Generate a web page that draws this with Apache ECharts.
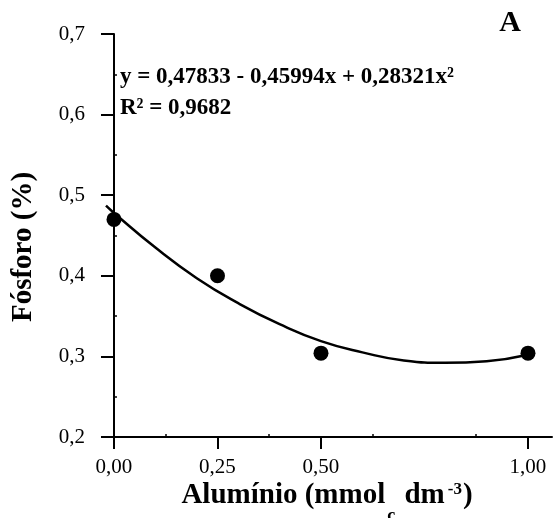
<!DOCTYPE html>
<html>
<head>
<meta charset="utf-8">
<script src="https://cdn.jsdelivr.net/npm/echarts@6/dist/echarts.min.js"></script>
<style>
html,body{margin:0;padding:0;background:#fff;}
#chart{width:553px;height:518px;}
</style>
</head>
<body>
<div id="chart"></div>
<script>
// observed points
const alX = [0, 0.25, 0.5, 1.0];
const fosY = [0.47, 0.40, 0.304, 0.304];
// fitted curve
const curveX = [-0.0193, 0, 0.1, 0.2, 0.3, 0.4, 0.5, 0.6, 0.7, 0.8, 0.9, 1.0];
const curveY = [0.487, 0.478, 0.435, 0.397, 0.366, 0.340, 0.319, 0.305, 0.295, 0.292, 0.294, 0.302];
// ticks
const xTickValues = [0, 0.25, 0.5, 1.0];
const xTickLabels = ['0,00', '0,25', '0,50', '1,00'];
const xMinorTicks = [0.125, 0.375, 0.625, 0.875];
const yTickValues = [0.2, 0.3, 0.4, 0.5, 0.6, 0.7];
const yTickLabels = ['0,2', '0,3', '0,4', '0,5', '0,6', '0,7'];
const yMinorTicks = [0.25, 0.35, 0.45, 0.55, 0.65];
// texts
const equationText = 'y = 0,47833 - 0,45994x + 0,28321x²';
const r2Text = 'R² = 0,9682';
const panelLetter = 'A';
const yTitle = 'Fósforo (%)';

const SERIF = '"Liberation Serif", "Times New Roman", serif';
const chart = echarts.init(document.getElementById('chart'));

function lbl(values, labels) {
  return function (v) {
    for (let i = 0; i < values.length; i++) {
      if (Math.abs(values[i] - v) < 1e-6) return labels[i];
    }
    return '';
  };
}

const xMin = -0.0193, xMax = 1.058;

chart.setOption({
  animation: false,
  backgroundColor: '#fff',
  grid: { left: 106, right: 1, top: 34, bottom: 81 },
  xAxis: [{
    type: 'value', min: xMin, max: xMax, position: 'bottom',
    axisLine: { show: true, lineStyle: { color: '#000', width: 2 } },
    axisTick: { show: true, customValues: xTickValues, length: 12, lineStyle: { color: '#000', width: 2 } },
    axisLabel: { show: true, customValues: xTickValues, formatter: lbl(xTickValues, xTickLabels),
      color: '#000', fontFamily: SERIF, fontSize: 21, margin: 20 },
    splitLine: { show: false }
  }, {
    type: 'value', min: xMin, max: xMax, position: 'bottom',
    axisLine: { show: false },
    axisTick: { show: true, inside: true, customValues: xMinorTicks, length: 3, lineStyle: { color: '#000', width: 1.5 } },
    axisLabel: { show: false },
    splitLine: { show: false }
  }],
  yAxis: [{
    type: 'value', min: 0.2, max: 0.7, interval: 0.1, position: 'left',
    axisLine: { show: true, lineStyle: { color: '#000', width: 2 } },
    axisTick: { show: true, length: 13, lineStyle: { color: '#000', width: 2 } },
    axisLabel: { show: true, formatter: lbl(yTickValues, yTickLabels),
      color: '#000', fontFamily: SERIF, fontSize: 21, margin: 21, padding: [5, 0, 0, 0] },
    splitLine: { show: false }
  }, {
    type: 'value', min: 0.2, max: 0.7, position: 'left',
    axisLine: { show: false },
    axisTick: { show: true, inside: true, customValues: yMinorTicks, length: 3, lineStyle: { color: '#000', width: 1.5 } },
    axisLabel: { show: false },
    splitLine: { show: false }
  }],
  series: [{
    type: 'line',
    data: curveX.map((x, i) => [x, curveY[i]]),
    smooth: true,
    showSymbol: false,
    symbol: 'none',
    lineStyle: { color: '#000', width: 2.5 },
    z: 2
  }, {
    type: 'scatter',
    data: alX.map((x, i) => [x, fosY[i]]),
    symbol: 'circle',
    symbolSize: 15,
    itemStyle: { color: '#000', opacity: 1 },
    z: 3
  }],
  graphic: [{
    type: 'text', x: 120, y: 77,
    style: { text: equationText, font: 'bold 23px ' + SERIF, fill: '#000', verticalAlign: 'middle' }
  }, {
    type: 'text', x: 120, y: 108,
    style: { text: r2Text, font: 'bold 23px ' + SERIF, fill: '#000', verticalAlign: 'middle' }
  }, {
    type: 'text', x: 510, y: 23,
    style: { text: panelLetter, font: 'bold 30px ' + SERIF, fill: '#000', align: 'center', verticalAlign: 'middle' }
  }, {
    type: 'text', x: 24, y: 247, rotation: Math.PI / 2,
    style: { text: yTitle, font: 'bold 29px ' + SERIF, fill: '#000', align: 'center', verticalAlign: 'middle' }
  }, {
    type: 'text', x: 327, y: 481,
    style: {
      text: '{b|Alumínio (mmol}{s|c}{b| dm}{p|-3}{b|)}',
      align: 'center', verticalAlign: 'top',
      rich: {
        b: { font: 'bold 29px ' + SERIF, color: '#000', lineHeight: 30, verticalAlign: 'top' },
        s: { font: 'bold 18px ' + SERIF, color: '#000', lineHeight: 44, verticalAlign: 'bottom', padding: [0, 2, 0, 2] },
        p: { font: 'bold 17px ' + SERIF, color: '#000', lineHeight: 14, verticalAlign: 'top', padding: [0, 1, 0, 3] }
      }
    }
  }]
});
</script>
</body>
</html>
